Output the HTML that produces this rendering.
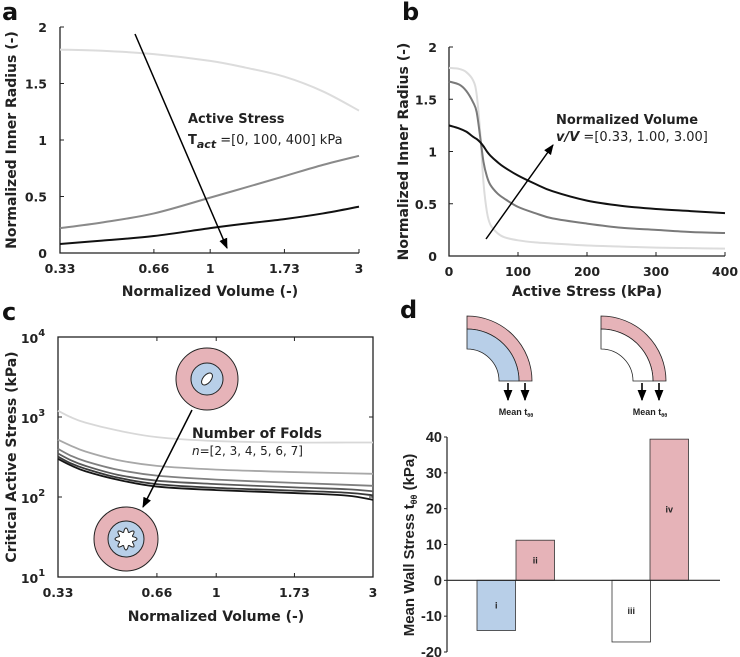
<!DOCTYPE html>
<html><head><meta charset="utf-8"><style>
body{margin:0;background:#fff;}
svg{display:block;font-family:"DejaVu Sans","Liberation Sans",sans-serif;}
.tk{font-size:12.5px;font-weight:bold;fill:#222;}
.tt{font-size:14px;font-weight:bold;fill:#222;}
.pl{font-size:24px;font-weight:bold;fill:#111;}
.ar{font-family:"Liberation Sans",sans-serif;}
</style></head><body>
<svg id="fig" width="740" height="657" viewBox="0 0 740 657">
<defs><marker id="ah" viewBox="0 0 10 10" refX="9" refY="5" markerWidth="7" markerHeight="7" orient="auto"><path d="M0,1 L10,5 L0,9 z" fill="#000"/></marker></defs>
<text class="pl" x="2" y="20">a</text>
<text class="pl" x="402" y="20">b</text>
<text class="pl" x="2" y="320">c</text>
<text class="pl" x="400" y="318">d</text>
<g id="ga"></g><g id="gb"></g><g id="gc"></g><g id="gd"></g>
</svg>
<script>
// Panel a
const aX=[0.33,0.45,0.66,1,1.3,1.73,2.3,3];
const aLight=[1.8,1.79,1.76,1.7,1.64,1.56,1.43,1.26];
const aGray=[0.22,0.27,0.35,0.49,0.58,0.68,0.78,0.86];
const aBlack=[0.08,0.11,0.15,0.22,0.26,0.30,0.35,0.41];
const aTicksX=[0.33,0.66,1,1.73,3];
const aTickLbl=["0.33","0.66","1","1.73","3"];
const aTicksY=[0,0.5,1,1.5,2];
const aTickLblY=["0","0.5","1","1.5","2"];
// Panel b
const bX=[0,15,25,35,40,45,50,55,60,70,80,100,125,150,200,250,300,350,400];
const bLight=[1.8,1.79,1.76,1.68,1.55,1.2,0.7,0.42,0.3,0.22,0.18,0.15,0.13,0.12,0.1,0.09,0.08,0.075,0.07];
const bGray=[1.67,1.64,1.58,1.47,1.38,1.15,0.9,0.76,0.68,0.6,0.55,0.47,0.41,0.36,0.31,0.27,0.25,0.23,0.22];
const bBlack=[1.25,1.22,1.19,1.14,1.12,1.09,1.05,1.0,0.96,0.9,0.85,0.77,0.69,0.62,0.53,0.48,0.45,0.43,0.41];
const bTicksX=[0,100,200,300,400];
const bTicksY=[0,0.5,1,1.5,2];
// Panel c
const cX=[0.33,0.36,0.4,0.5,0.66,1,1.73,2.5,3];
const cN2=[1200,1000,850,680,560,500,480,480,480];
const cN3=[520,440,370,290,245,220,205,198,195];
const cN4=[400,330,280,220,185,165,150,142,138];
const cN5=[350,290,245,190,160,145,132,125,118];
const cN6=[320,265,225,175,145,130,120,113,105];
const cN7=[300,250,210,165,135,122,112,104,92];
const cTicksX=[0.33,0.66,1,1.73,3];
const cTicksY=[1,2,3,4];
// Panel d
const dCats=["i","ii","iii","iv"];
const dVals=[-14,11.2,-17.2,39.4];
const dFills=["#b8cfe8","#e6b3b8","#ffffff","#e6b3b8"];
const dTicks=[-20,-10,0,10,20,30,40];

const NS="http://www.w3.org/2000/svg";
function mk(p,t,a,txt){const e=document.createElementNS(NS,t);for(const k in a)e.setAttribute(k,a[k]);if(txt!==undefined)e.textContent=txt;p.appendChild(e);return e;}
function smooth(xs,ys,sx,sy){const P=xs.map((x,i)=>[sx(x),sy(ys[i])]);let d="M"+P[0][0]+","+P[0][1];for(let i=0;i<P.length-1;i++){const p0=P[i-1]||P[i],p1=P[i],p2=P[i+1],p3=P[i+2]||p2;d+=" C"+(p1[0]+(p2[0]-p0[0])/6)+","+(p1[1]+(p2[1]-p0[1])/6)+" "+(p2[0]-(p3[0]-p1[0])/6)+","+(p2[1]-(p3[1]-p1[1])/6)+" "+p2[0]+","+p2[1];}return d;}

// ---- A
(function(){const g=document.getElementById("ga");
const L=60,R=359,T=27,B=253;
const sx=v=>L+(Math.log(v)-Math.log(0.33))/(Math.log(3)-Math.log(0.33))*(R-L);
const sy=v=>B-v/2*(B-T);
let e=mk(g,"path",{d:`M${L},${T} L${L},${B} L${R},${B}`,stroke:"#222",fill:"none","stroke-width":1.3});

aTicksX.forEach((v,i)=>{mk(g,"line",{x1:sx(v),x2:sx(v),y1:B,y2:B-4,stroke:"#222"});
 e=mk(g,"text",{class:"tk",x:sx(v),y:B+20,"text-anchor":"middle"},aTickLbl[i]);
 });
aTicksY.forEach((v,i)=>{mk(g,"line",{x1:L,x2:L+4,y1:sy(v),y2:sy(v),stroke:"#222"});
 e=mk(g,"text",{class:"tk",x:L-13,y:sy(v)+5,"text-anchor":"end"},aTickLblY[i]);
 });
[[aLight,"#dcdcdc"],[aGray,"#8a8a8a"],[aBlack,"#111"]].forEach(([s,c])=>{e=mk(g,"path",{d:smooth(aX,s,sx,sy),stroke:c,fill:"none","stroke-width":2});
 });
e=mk(g,"line",{x1:135,y1:34,x2:227,y2:248,stroke:"#000","stroke-width":1.5,"marker-end":"url(#ah)"});

e=mk(g,"text",{x:188,y:123,"font-size":"13px","font-weight":"bold",fill:"#222"},"Active Stress");

e=mk(g,"text",{x:188,y:144,"font-size":"13px",fill:"#222"});e.innerHTML='<tspan font-weight="bold">T</tspan><tspan font-weight="bold" font-style="italic" font-size="11" dy="4">act</tspan><tspan dy="-4"> =[0, 100, 400] kPa</tspan>';

e=mk(g,"text",{class:"tt",x:210,y:296,"text-anchor":"middle"},"Normalized Volume (-)");

e=mk(g,"text",{class:"tt",x:0,y:0,"text-anchor":"middle",transform:`translate(16,${(T+B)/2}) rotate(-90)`},"Normalized Inner Radius (-)");

})();

// ---- B
(function(){const g=document.getElementById("gb");
const L=449,R=725,T=47,B=256;
const sx=v=>L+v/400*(R-L);const sy=v=>B-v/2*(B-T);
let e=mk(g,"path",{d:`M${L},${T} L${L},${B} L${R},${B}`,stroke:"#222",fill:"none","stroke-width":1.3});

bTicksX.forEach(v=>{mk(g,"line",{x1:sx(v),x2:sx(v),y1:B,y2:B-4,stroke:"#222"});
 e=mk(g,"text",{class:"tk",x:sx(v),y:B+20,"text-anchor":"middle"},String(v));
 });
bTicksY.forEach(v=>{mk(g,"line",{x1:L,x2:L+4,y1:sy(v),y2:sy(v),stroke:"#222"});
 e=mk(g,"text",{class:"tk",x:L-12,y:sy(v)+5,"text-anchor":"end"},String(v));
 });
[[bLight,"#dcdcdc"],[bGray,"#7a7a7a"],[bBlack,"#111"]].forEach(([s,c])=>{e=mk(g,"path",{d:smooth(bX,s,sx,sy),stroke:c,fill:"none","stroke-width":2});
 });
e=mk(g,"line",{x1:486,y1:239,x2:553,y2:145,stroke:"#000","stroke-width":1.5,"marker-end":"url(#ah)"});

e=mk(g,"text",{x:556,y:124,"font-size":"13px","font-weight":"bold",fill:"#222"},"Normalized Volume");

e=mk(g,"text",{x:556,y:141,"font-size":"13px",fill:"#222"});e.innerHTML='<tspan font-weight="bold" font-style="italic">v/V</tspan> =[0.33, 1.00, 3.00]';

e=mk(g,"text",{class:"tt",x:587,y:296,"text-anchor":"middle"},"Active Stress (kPa)");

e=mk(g,"text",{class:"tt",x:0,y:0,"text-anchor":"middle",transform:`translate(408,${(T+B)/2}) rotate(-90)`},"Normalized Inner Radius (-)");

})();

// ---- C
(function(){const g=document.getElementById("gc");
const L=58,R=373,T=337,B=577;
const sx=v=>L+(Math.log(v)-Math.log(0.33))/(Math.log(3)-Math.log(0.33))*(R-L);
const sy=v=>B-(Math.log10(v)-1)/3*(B-T);
let e=mk(g,"rect",{x:L,y:T,width:R-L,height:B-T,stroke:"#222",fill:"none","stroke-width":1.3});

cTicksX.forEach((v,i)=>{mk(g,"line",{x1:sx(v),x2:sx(v),y1:B,y2:B-4,stroke:"#222"});mk(g,"line",{x1:sx(v),x2:sx(v),y1:T,y2:T+4,stroke:"#222"});
 e=mk(g,"text",{class:"tk",x:sx(v),y:B+20,"text-anchor":"middle"},aTickLbl[i]);
 });
cTicksY.forEach(p=>{const y=B-(p-1)/3*(B-T);mk(g,"line",{x1:L,x2:L+4,y1:y,y2:y,stroke:"#222"});mk(g,"line",{x1:R,x2:R-4,y1:y,y2:y,stroke:"#222"});
 e=mk(g,"text",{class:"tk",x:L-25,y:y+6,"text-anchor":"middle","font-size":"15px"});e.innerHTML='10<tspan font-size="10" dy="-7">'+p+'</tspan>';
 });
const cols=["#d8d8d8","#a8a8a8","#808080","#5a5a5a","#383838","#151515"];
[cN2,cN3,cN4,cN5,cN6,cN7].forEach((s,i)=>{e=mk(g,"path",{d:smooth(cX,s,sx,sy),stroke:cols[i],fill:"none","stroke-width":1.8});
 });
e=mk(g,"circle",{cx:207,cy:379,r:31,fill:"#e6b3b8",stroke:"#222"});
mk(g,"circle",{cx:207,cy:379,r:16,fill:"#b8cfe8",stroke:"#222"});
mk(g,"ellipse",{cx:207,cy:379,rx:4,ry:7,transform:"rotate(40 207 379)",fill:"#fff",stroke:"#222"});
e=mk(g,"circle",{cx:126,cy:539,r:32,fill:"#e6b3b8",stroke:"#222"});
mk(g,"circle",{cx:126,cy:539,r:18,fill:"#b8cfe8",stroke:"#222"});
let d="";for(let k=0;k<=96;k++){const a=k/96*2*Math.PI;const r=9+2*Math.cos(8*a);d+=(k?"L":"M")+(126+r*Math.cos(a)).toFixed(1)+","+(539+r*Math.sin(a)).toFixed(1);}
mk(g,"path",{d:d+"Z",fill:"#fff",stroke:"#222"});
e=mk(g,"line",{x1:192,y1:410,x2:143,y2:507,stroke:"#000","stroke-width":1.5,"marker-end":"url(#ah)"});

e=mk(g,"text",{x:192,y:438,"font-size":"14px","font-weight":"bold",fill:"#222"},"Number of Folds");

e=mk(g,"text",{x:192,y:455,"font-size":"12px",fill:"#222"});e.innerHTML='<tspan font-style="italic">n</tspan>=[2, 3, 4, 5, 6, 7]';

e=mk(g,"text",{class:"tt",x:216,y:621,"text-anchor":"middle","font-size":"15px"},"Normalized Volume (-)");

e=mk(g,"text",{class:"tt",x:0,y:0,"text-anchor":"middle","font-size":"15px",transform:`translate(16,${(T+B)/2}) rotate(-90)`},"Critical Active Stress (kPa)");

})();

// ---- D
(function(){const g=document.getElementById("gd");
const L=447,T=437,B=652,Rz=720;
const sy=v=>T+(40-v)/60*(B-T);
const bx=[477,516,612,650],bw=38.5;
function quarter(cx,cy,r1,r2){return `M${cx},${cy-r2} A${r2},${r2} 0 0 1 ${cx+r2},${cy} L${cx+r1},${cy} A${r1},${r1} 0 0 0 ${cx},${cy-r1} Z`;}
[[467,"#b8cfe8","left"],[601,"#ffffff","right"]].forEach(([cx,f,n])=>{
 let e=mk(g,"path",{d:quarter(cx,381,52,65),fill:"#e6b3b8",stroke:"#222","stroke-width":0.8});
 
 mk(g,"path",{d:quarter(cx,381,32,52),fill:f,stroke:"#222","stroke-width":0.8});
 [cx+41,cx+58].forEach(x=>{mk(g,"line",{x1:x,y1:383,x2:x,y2:400,stroke:"#000","stroke-width":1.6,"marker-end":"url(#ah)"});});
 e=mk(g,"text",{class:"ar",x:cx+49,y:415,"text-anchor":"middle","font-size":"9px","font-weight":"bold",fill:"#222"});e.innerHTML='Mean t<tspan font-size="5.5" dy="2">θθ</tspan>';
 });
let e=mk(g,"line",{x1:L,y1:T,x2:L,y2:B,stroke:"#222","stroke-width":1.2});

dVals.forEach((v,i)=>{const y0=sy(0),y1=sy(v);
 e=mk(g,"rect",{x:bx[i],y:Math.min(y0,y1),width:bw,height:Math.abs(y1-y0),fill:dFills[i],stroke:"#333","stroke-width":0.8});
 
 e=mk(g,"text",{class:"ar",x:bx[i]+bw/2,y:(y0+y1)/2+3,"text-anchor":"middle","font-size":"9px","font-weight":"bold",fill:"#222"},dCats[i]);
 });
e=mk(g,"line",{x1:L,y1:sy(0),x2:Rz,y2:sy(0),stroke:"#222","stroke-width":1.2});

dTicks.forEach(v=>{mk(g,"line",{x1:L,x2:L-3,y1:sy(v),y2:sy(v),stroke:"#222"});
 e=mk(g,"text",{class:"ar",x:L-5,y:sy(v)+5,"text-anchor":"end","font-size":"14.5px","font-weight":"bold",fill:"#222"},String(v));
 });
e=mk(g,"text",{class:"ar",x:0,y:0,"text-anchor":"middle","font-size":"15px","font-weight":"bold",fill:"#222",transform:`translate(414,545) rotate(-90)`});
e.innerHTML='Mean Wall Stress  t<tspan font-size="9" dy="3">θθ</tspan><tspan dy="-3">  (kPa)</tspan>';

})();
</script>
</body></html>
